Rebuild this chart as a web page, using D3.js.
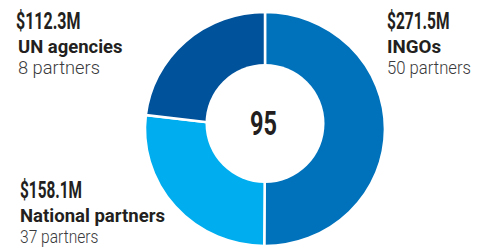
<!DOCTYPE html>
<html>
<head>
<meta charset="utf-8">
<script src="https://cdn.jsdelivr.net/npm/d3@7"></script>
<style>
  body { margin: 0; background: #fff; }
  text { font-family: Roboto, "Noto Sans", sans-serif; }
</style>
</head>
<body>
<script>
// chart data
var groups = ["INGOs", "National partners", "UN agencies"];
var amounts = ["$271.5M", "$158.1M", "$112.3M"];
var partners = [50, 37, 8];
// slice shares as read from the ring (percent)
var shares = [50.1, 26.8, 23.1];
var colors = ["#0072BC", "#00AEEF", "#00529B"];
var total = 95;

var svgWidth = 498;
var svgHeight = 248;

var svg = d3.select("body")
  .append("svg")
  .attr("width", svgWidth)
  .attr("height", svgHeight);

// ring: outer slices, then a white hole
var cx = 265, cy = 129;
var ring = svg.append("g")
  .attr("transform", `translate(${cx}, ${cy}) scale(1, ${116 / 119})`);

var pie = d3.pie().sort(null).value(d => d.share);
var arc = d3.arc().innerRadius(0).outerRadius(120);

var slices = pie(groups.map((g, i) => ({ name: g, share: shares[i] })));

ring.selectAll("path")
  .data(slices)
  .enter()
  .append("path")
  .attr("d", arc)
  .attr("fill", (d, i) => colors[i])
  .attr("stroke", "#fff")
  .attr("stroke-width", 2.5);

svg.append("circle")
  .attr("cx", cx)
  .attr("cy", 123.5)
  .attr("r", 59.5)
  .attr("fill", "#fff");

svg.append("text")
  .attr("x", 263.5)
  .attr("y", 135)
  .attr("text-anchor", "middle")
  .attr("font-size", 33)
  .attr("font-weight", 700)
  .attr("fill", "#231F20")
  .attr("textLength", 27)
  .attr("lengthAdjust", "spacingAndGlyphs")
  .text(total);

// labels: [x, baseline of amount, amount width, name width, partners width]
var labelPos = [
  { x: 387, y: 29.3, w: 62.5, nw: 54, pw: 84 },
  { x: 20, y: 198.3, w: 62, nw: 145, pw: 78.5 },
  { x: 16, y: 29.3, w: 64.5, nw: 104.5, pw: 82 }
];

groups.forEach(function(g, i) {
  var p = labelPos[i];
  var dx = i == 2 ? 2 : 0;
  var lab = svg.append("g").attr("transform", `translate(${p.x}, ${p.y})`);
  lab.append("text")
    .attr("font-size", 23)
    .attr("font-weight", 700)
    .attr("fill", "#231F20")
    .attr("textLength", p.w)
    .attr("lengthAdjust", "spacingAndGlyphs")
    .text(amounts[i]);
  lab.append("text")
    .attr("x", dx)
    .attr("y", 23.3)
    .attr("font-size", 18)
    .attr("font-weight", 700)
    .attr("fill", "#231F20")
    .attr("textLength", p.nw)
    .attr("lengthAdjust", "spacingAndGlyphs")
    .text(g);
  lab.append("text")
    .attr("x", dx)
    .attr("y", 44.8)
    .attr("font-size", 18)
    .attr("font-weight", 300)
    .attr("fill", "#3A3A3C")
    .attr("textLength", p.pw)
    .attr("lengthAdjust", "spacingAndGlyphs")
    .text(partners[i] + " partners");
});
</script>
</body>
</html>
